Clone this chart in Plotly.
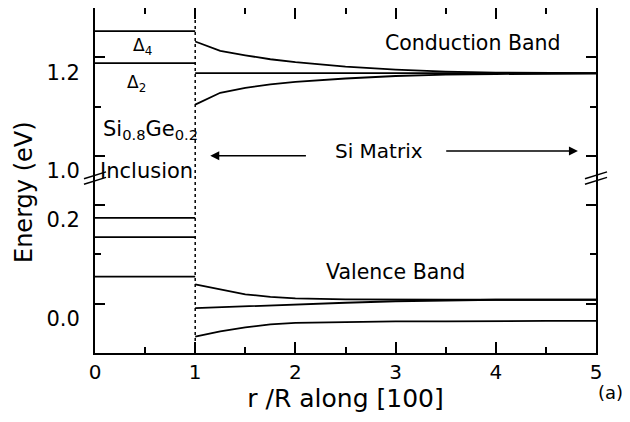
import plotly.graph_objects as go

# ---------------- data ----------------
r_inclusion = [0, 1]
cb_inclusion_levels = [1.253, 1.188]          # Delta4, Delta2 inside SiGe
vb_inclusion_levels = [0.174, 0.135, 0.055]   # valence levels inside SiGe

r_matrix = [1, 1.25, 1.5, 1.75, 2, 2.5, 3, 3.5, 4, 4.5, 5]
cb_upper = [1.232, 1.213, 1.204, 1.196, 1.190, 1.181, 1.175, 1.171, 1.169, 1.168, 1.168]
cb_lower = [1.104, 1.128, 1.138, 1.145, 1.150, 1.157, 1.162, 1.165, 1.166, 1.167, 1.167]
r_si_line = [1, 5]
cb_si_line = [1.168, 1.168]

vb_upper = [0.039, 0.029, 0.019, 0.014, 0.011, 0.009, 0.008, 0.008, 0.008, 0.008, 0.008]
vb_middle = [-0.009, -0.007, -0.005, -0.003, -0.002, 0.002, 0.005, 0.007, 0.008, 0.008, 0.008]
vb_lower = [-0.067, -0.056, -0.048, -0.042, -0.039, -0.037, -0.036, -0.036, -0.035, -0.035, -0.035]

boundary_r = 1.0
x_ticks = [0, 1, 2, 3, 4, 5]
y_low_range = [-0.1, 0.25]
y_high_range = [0.95, 1.3]

FONT = "DejaVu Sans"
LW = 1.8

# page body has an 8px margin; figure is sized/placed to compensate
PAGE_OFF = 8
FIG_W, FIG_H = 630 - PAGE_OFF, 422 - PAGE_OFF
PLOT_L, PLOT_R, PLOT_T, PLOT_B = 95, 596, 8, 353   # target window pixels

fig = go.Figure()

def line(x, y, yaxis):
    fig.add_trace(go.Scatter(x=x, y=y, mode="lines", xaxis="x", yaxis=yaxis,
                             line=dict(color="black", width=LW),
                             showlegend=False, hoverinfo="skip"))

for lvl in cb_inclusion_levels:
    line(r_inclusion, [lvl, lvl], "y2")
for lvl in vb_inclusion_levels:
    line(r_inclusion, [lvl, lvl], "y")

line(r_matrix, cb_upper, "y2")
line(r_matrix, cb_lower, "y2")
line(r_si_line, cb_si_line, "y2")
line(r_matrix, vb_upper, "y")
line(r_matrix, vb_middle, "y")
line(r_matrix, vb_lower, "y")

# invisible trace to make the top x axis show
fig.add_trace(go.Scatter(x=[0, 5], y=[1.0, 1.0], xaxis="x2", yaxis="y2", mode="lines",
                         line=dict(width=0), showlegend=False, hoverinfo="skip", opacity=0))

# inclusion boundary (dotted)
fig.add_shape(type="line", xref="x", yref="paper", x0=boundary_r, x1=boundary_r,
              y0=0, y1=1, line=dict(color="black", width=1.5, dash="dot"))

axis_common = dict(showgrid=False, zeroline=False, showline=True, linecolor="black",
                   linewidth=2, ticks="inside", tickcolor="black", tickwidth=1.5)

ml = PLOT_L - PAGE_OFF
mt = PLOT_T - PAGE_OFF
mb = FIG_H - (PLOT_B - PAGE_OFF)
mr = FIG_W - ml - (PLOT_R - PLOT_L)
pw = PLOT_R - PLOT_L
ph = PLOT_B - PLOT_T

fig.update_layout(
    width=FIG_W, height=FIG_H,
    margin=dict(l=ml, r=mr, t=mt, b=mb, autoexpand=False),
    paper_bgcolor="white", plot_bgcolor="white",
    font=dict(family=FONT, color="black", size=20),
    xaxis=dict(range=[0, 5], domain=[0, 1], anchor="y", tickvals=x_ticks,
               ticklen=11, minor=dict(dtick=0.5, ticklen=6, ticks="inside", tickcolor="black"),
               tickfont=dict(size=20, family=FONT),
               title=dict(text="r /R along [100]", font=dict(size=25, family=FONT), standoff=6),
               **axis_common),
    xaxis2=dict(range=[0, 5], overlaying="x", anchor="y2", side="top", tickvals=x_ticks,
                ticklen=11, showticklabels=False,
                minor=dict(dtick=0.5, ticklen=6, ticks="inside", tickcolor="black"),
                **axis_common),
    yaxis=dict(range=y_low_range, domain=[0, 0.5], anchor="x", tickvals=[0.0, 0.2],
               ticktext=["0.0", "0.2"], ticklen=10, mirror="ticks",
               minor=dict(tickvals=[0.1], ticklen=6, ticks="inside", tickcolor="black"),
               tickfont=dict(size=21, family=FONT), ticklabelshift=15, ticklabelstandoff=9,
               **axis_common),
    yaxis2=dict(range=y_high_range, domain=[0.5, 1], anchor="x", tickvals=[1.0, 1.2],
                ticktext=["1.0", "1.2"], ticklen=10, mirror="ticks",
                minor=dict(tickvals=[1.1], ticklen=6, ticks="inside", tickcolor="black"),
                tickfont=dict(size=21, family=FONT), ticklabelshift=15, ticklabelstandoff=9,
                **axis_common),
)

# axis break marks
for xp in (0.0, 1.0):
    for dy in (-0.008, 0.008):
        fig.add_shape(type="line", xref="paper", yref="paper",
                      x0=xp - 0.022, x1=xp + 0.022,
                      y0=0.497 + dy, y1=0.517 + dy,
                      line=dict(color="black", width=1.5))

def txt(x, y, s, yref="y2", size=20, **kw):
    fig.add_annotation(x=x, y=y, xref="x", yref=yref, text=s, showarrow=False,
                       xanchor="center", yanchor="middle",
                       font=dict(size=size, family=FONT, color="black"), **kw)

txt(0.47, 1.222, "Δ<sub>4</sub>", size=17)
txt(0.41, 1.147, "Δ<sub>2</sub>", size=17)
txt(0.55, 1.052, "Si<sub>0.8</sub>Ge<sub>0.2</sub>", size=21)
txt(0.51, 0.970, "Inclusion", size=21)
txt(2.83, 1.010, "Si Matrix", size=20)
txt(3.77, 1.229, "Conduction Band", size=20.5)
txt(3.0, 0.064, "Valence Band", yref="y", size=20.5)

# arrows
fig.add_annotation(x=1.15, y=1.0, ax=2.12, ay=1.0, xref="x", yref="y2", axref="x", ayref="y2",
                   text="", showarrow=True, arrowhead=2, arrowsize=1.2, arrowwidth=1.5,
                   arrowcolor="black")
fig.add_annotation(x=4.82, y=1.01, ax=3.49, ay=1.01, xref="x", yref="y2", axref="x", ayref="y2",
                   text="", showarrow=True, arrowhead=2, arrowsize=1.2, arrowwidth=1.5,
                   arrowcolor="black")

# y-axis title (paper coords computed from target window pixels)
fig.add_annotation(x=(24 - PLOT_L) / pw, y=(PLOT_B - 192) / ph, xref="paper", yref="paper",
                   text="Energy (eV)", showarrow=False, textangle=-90,
                   xanchor="center", yanchor="middle",
                   font=dict(size=24, family=FONT, color="black"))

fig.add_annotation(x=(610 - PLOT_L) / pw, y=(PLOT_B - 392) / ph, xref="paper", yref="paper",
                   text="(a)", showarrow=False, xanchor="center", yanchor="middle",
                   font=dict(size=18, family=FONT, color="black"))

fig.write_html("out.html")
